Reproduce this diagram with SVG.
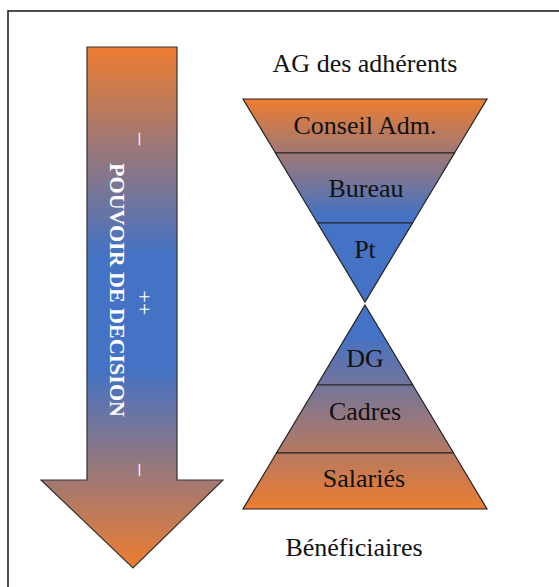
<svg xmlns="http://www.w3.org/2000/svg" width="559" height="587" viewBox="0 0 559 587">
  <defs>
    <linearGradient id="gArrow" gradientUnits="userSpaceOnUse" x1="0" y1="47" x2="0" y2="568">
      <stop offset="0" stop-color="#ED7D31"/>
      <stop offset="0.4" stop-color="#4472C4"/>
      <stop offset="0.62" stop-color="#4472C4"/>
      <stop offset="1" stop-color="#ED7D31"/>
    </linearGradient>
    <linearGradient id="gTop" gradientUnits="userSpaceOnUse" x1="0" y1="99" x2="0" y2="302">
      <stop offset="0" stop-color="#ED7D31"/>
      <stop offset="0.58" stop-color="#4472C4"/>
      <stop offset="1" stop-color="#4472C4"/>
    </linearGradient>
    <linearGradient id="gBot" gradientUnits="userSpaceOnUse" x1="0" y1="305" x2="0" y2="509">
      <stop offset="0" stop-color="#4472C4"/>
      <stop offset="0.15" stop-color="#4472C4"/>
      <stop offset="1" stop-color="#ED7D31"/>
    </linearGradient>
  </defs>
  <style>
    .lbl { font-family: "Liberation Serif", "Times New Roman", serif; font-size: 26px; fill: #111111; text-anchor: middle; }
    .sec { stroke: #222; stroke-width: 1.2; stroke-linejoin: miter; }
    .arr { font-family: "Liberation Serif", "Times New Roman", serif; fill: #ffffff; text-anchor: middle; }
  </style>

  <rect id="frame" x="8" y="11" width="580" height="600" fill="#ffffff" stroke="#222" stroke-width="1.6"/>

  <g id="arrow">
    <polygon points="87,47 177,47 177,480 223,480 133,568 41,480 87,480" fill="url(#gArrow)" stroke="#333" stroke-width="1.2"/>
    <text class="arr" font-weight="bold" font-size="22" transform="translate(110,290) rotate(90)" x="0" y="0">POUVOIR DE DECISION</text>
    <text class="arr" font-size="24" transform="translate(134,139) rotate(90)" x="0" y="0">–</text>
    <text class="arr" font-size="22" transform="translate(137,303) rotate(90)" x="0" y="0">++</text>
    <text class="arr" font-size="24" transform="translate(134,470) rotate(90)" x="0" y="0">–</text>
  </g>

  <g id="ag-adherents">
    <text class="lbl" x="365" y="72">AG des adhérents</text>
  </g>

  <g id="conseil-adm">
    <polygon class="sec" points="243,99 487,99 454.5,153 275.5,153" fill="url(#gTop)"/>
    <text class="lbl" x="365" y="134">Conseil Adm.</text>
  </g>
  <g id="bureau">
    <polygon class="sec" points="275.5,153 454.5,153 412.5,223 317.5,223" fill="url(#gTop)"/>
    <text class="lbl" x="366" y="197">Bureau</text>
  </g>
  <g id="pt">
    <polygon class="sec" points="317.5,223 412.5,223 365,302" fill="url(#gTop)"/>
    <text class="lbl" x="365" y="258">Pt</text>
  </g>

  <g id="dg">
    <polygon class="sec" points="365,305 412.8,385 317.2,385" fill="url(#gBot)"/>
    <text class="lbl" x="365" y="367">DG</text>
  </g>
  <g id="cadres">
    <polygon class="sec" points="317.2,385 412.8,385 453.5,453 276.5,453" fill="url(#gBot)"/>
    <text class="lbl" x="365" y="420">Cadres</text>
  </g>
  <g id="salaries">
    <polygon class="sec" points="276.5,453 453.5,453 487,509 243,509" fill="url(#gBot)"/>
    <text class="lbl" x="364" y="487">Salariés</text>
  </g>

  <g id="beneficiaires">
    <text class="lbl" x="354" y="556">Bénéficiaires</text>
  </g>

  <g id="connectors"/>
</svg>
